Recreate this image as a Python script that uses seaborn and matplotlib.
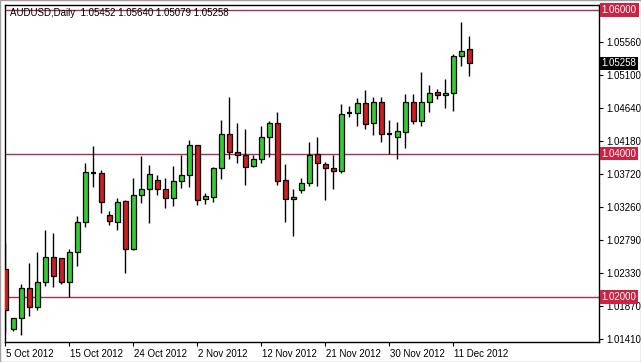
import numpy as np
import pandas as pd
import matplotlib
matplotlib.use("Agg")
import matplotlib.pyplot as plt
import matplotlib.transforms as mtransforms
import seaborn as sns

# ---- data (AUDUSD daily) ----
opens = [1.02387, 1.01551, 1.01704, 1.02122, 1.01866, 1.02206, 1.02555, 1.02541, 1.02214, 1.02624,
         1.03042, 1.03733, 1.03726, 1.03144, 1.03042, 1.03335, 1.02666, 1.03419, 1.03502, 1.03632,
         1.03502, 1.03377, 1.03614, 1.03698, 1.04116, 1.03363, 1.03399, 1.03795, 1.04273, 1.04022,
         1.03981, 1.03823, 1.03929, 1.04227, 1.04422, 1.03632, 1.03363, 1.03493, 1.03586, 1.03995,
         1.03851, 1.03799, 1.03762, 1.04562, 1.04562, 1.04701, 1.04422, 1.04715, 1.04269, 1.04236,
         1.04297, 1.04715, 1.04450, 1.04715, 1.04859, 1.04813, 1.04841, 1.05357, 1.05452]
highs = [1.02750, 1.01708, 1.02182, 1.02471, 1.02633, 1.02935, 1.02898, 1.02541, 1.02666, 1.03130,
         1.03873, 1.04106, 1.03772, 1.03204, 1.03377, 1.03353, 1.03656, 1.03967, 1.03841, 1.03702,
         1.03656, 1.03827, 1.03981, 1.04190, 1.04125, 1.03455, 1.03809, 1.04469, 1.04793, 1.04431,
         1.04339, 1.03981, 1.04385, 1.04459, 1.04580, 1.03855, 1.03507, 1.03656, 1.04162, 1.04227,
         1.03883, 1.03981, 1.04692, 1.04664, 1.04771, 1.04887, 1.04793, 1.04793, 1.04469, 1.04445,
         1.04827, 1.04827, 1.05133, 1.04952, 1.04896, 1.05036, 1.05384, 1.05839, 1.05640]
lows = [1.01495, 1.01531, 1.01471, 1.01736, 1.01820, 1.02159, 1.02145, 1.02182, 1.02005, 1.02437,
        1.02981, 1.03530, 1.03168, 1.03001, 1.02935, 1.02340, 1.02660, 1.03307, 1.03037, 1.03423,
        1.03238, 1.03270, 1.03516, 1.03530, 1.03284, 1.03298, 1.03330, 1.03642, 1.03925, 1.03873,
        1.03562, 1.03818, 1.03865, 1.03957, 1.03567, 1.03051, 1.02856, 1.03455, 1.03548, 1.03548,
        1.03353, 1.03511, 1.03734, 1.04506, 1.04385, 1.04339, 1.04259, 1.04166, 1.03995, 1.03921,
        1.04074, 1.04409, 1.04389, 1.04584, 1.04757, 1.04640, 1.04598, 1.05221, 1.05079]
closes = [1.01820, 1.01704, 1.02122, 1.01866, 1.02206, 1.02555, 1.02298, 1.02214, 1.02633, 1.03042,
          1.03744, 1.03733, 1.03321, 1.03061, 1.03330, 1.02666, 1.03419, 1.03502, 1.03712, 1.03502,
          1.03377, 1.03614, 1.03698, 1.04116, 1.03353, 1.03409, 1.03795, 1.04273, 1.04018, 1.03976,
          1.03818, 1.03925, 1.04227, 1.04422, 1.03622, 1.03363, 1.03395, 1.03586, 1.03985, 1.03865,
          1.03795, 1.03762, 1.04552, 1.04562, 1.04701, 1.04409, 1.04715, 1.04273, 1.04269, 1.04311,
          1.04715, 1.04450, 1.04715, 1.04841, 1.04813, 1.04841, 1.05357, 1.05435, 1.05258]

date_labels = ["5 Oct 2012", "15 Oct 2012", "24 Oct 2012", "2 Nov 2012",
               "12 Nov 2012", "21 Nov 2012", "30 Nov 2012", "11 Dec 2012"]
date_label_bars = [0, 8, 16, 24, 32, 40, 48, 56]

price_ticks = [1.05560, 1.05100, 1.04640, 1.04180, 1.03720, 1.03260,
               1.02790, 1.02330, 1.01870, 1.01410]
level_lines = [1.06000, 1.04000, 1.02000]
title_text = "AUDUSD,Daily  1.05452 1.05640 1.05079 1.05258"

df = pd.DataFrame({"open": opens, "high": highs, "low": lows, "close": closes})
df["bar"] = np.arange(len(df))

# ---- style ----
sns.set_theme(style="white")
plt.rcParams["font.family"] = ["Liberation Sans", "DejaVu Sans"]

GREEN = "#33CC33"
RED = "#CC1F1F"
LEVEL = "#A8304C"
LEVEL_BOX = "#CC2244"

W, H = 641, 362
fig = plt.figure(figsize=(W / 100, H / 100), dpi=100)
fig.patch.set_facecolor("white")
left_px, right_px, top_px, bot_px = 4.7, 599.3, 4.7, 342.0
ax = fig.add_axes([left_px / W, (H - bot_px) / H, (right_px - left_px) / W, (bot_px - top_px) / H])
ax.set_facecolor("white")

# level lines
for lv in level_lines:
    ax.axhline(lv, color=LEVEL, lw=1.0, zorder=1)

# wicks
ax.vlines(df["bar"], df["low"], df["high"], color="black", lw=1.0, zorder=2)

# bodies
up = df[df["close"] > df["open"]]
dn = df[df["close"] < df["open"]]
dj = df[df["close"] == df["open"]]
bw = 0.62
ax.bar(up["bar"], up["close"] - up["open"], bottom=up["open"], width=bw,
       color=GREEN, edgecolor="black", linewidth=0.9, zorder=3)
ax.bar(dn["bar"], dn["open"] - dn["close"], bottom=dn["close"], width=bw,
       color=RED, edgecolor="black", linewidth=0.9, zorder=3)
ax.hlines(dj["close"], dj["bar"] - bw / 2, dj["bar"] + bw / 2, color="black", lw=1.6, zorder=3)

ax.set_xlim(-0.075, 74.25)
ax.set_ylim(1.01374, 1.06076)

# spines
for s in ax.spines.values():
    s.set_color("black")
    s.set_linewidth(1.0)

# right price axis
ax.yaxis.tick_right()
ax.set_yticks(price_ticks)
ax.set_yticklabels([f"{p:.5f}" for p in price_ticks])
ax.tick_params(axis="y", which="both", direction="out", length=3, width=0.8,
               color="black", labelsize=7, pad=2, labelcolor="black", right=True, left=False)

# x date axis
ax.set_xticks(date_label_bars)
ax.set_xticklabels(date_labels)
ax.tick_params(axis="x", direction="out", length=3, width=0.8, color="black",
               labelsize=7, pad=2, labelcolor="black", bottom=True)
for lab in ax.get_xticklabels():
    lab.set_horizontalalignment("left")
offset = mtransforms.ScaledTranslation(1 / 100, 0, fig.dpi_scale_trans)
for lab in ax.get_xticklabels():
    lab.set_transform(lab.get_transform() + offset)

ax.set_xlabel("")
ax.set_ylabel("")

# boxed price labels on the right axis
trans = mtransforms.blended_transform_factory(ax.transAxes, ax.transData)
xbox = 1.0 + 2.5 / (right_px - left_px)
for lv in level_lines:
    ax.text(xbox, lv, f"{lv:.5f}", transform=trans, ha="left", va="center",
            fontsize=7, color="white", clip_on=False, zorder=5,
            bbox=dict(boxstyle="square,pad=0.18", facecolor=LEVEL_BOX, edgecolor="none"))
ax.text(xbox, closes[-1], f"{closes[-1]:.5f}", transform=trans, ha="left", va="center",
        fontsize=7, color="white", clip_on=False, zorder=5,
        bbox=dict(boxstyle="square,pad=0.18", facecolor="black", edgecolor="none"))

# title in chart
ax.text(5.3 / (right_px - left_px), 1 - 8.3 / (bot_px - top_px), title_text,
        transform=ax.transAxes, ha="left", va="center", fontsize=7, color="black", zorder=6)

# thin outer window frame
fig.add_artist(plt.Rectangle((0, 0), 1, 1, transform=fig.transFigure, fill=False,
                             edgecolor="#A0A0A0", lw=1.0))

fig.savefig("out.png", dpi=100, facecolor="white")
